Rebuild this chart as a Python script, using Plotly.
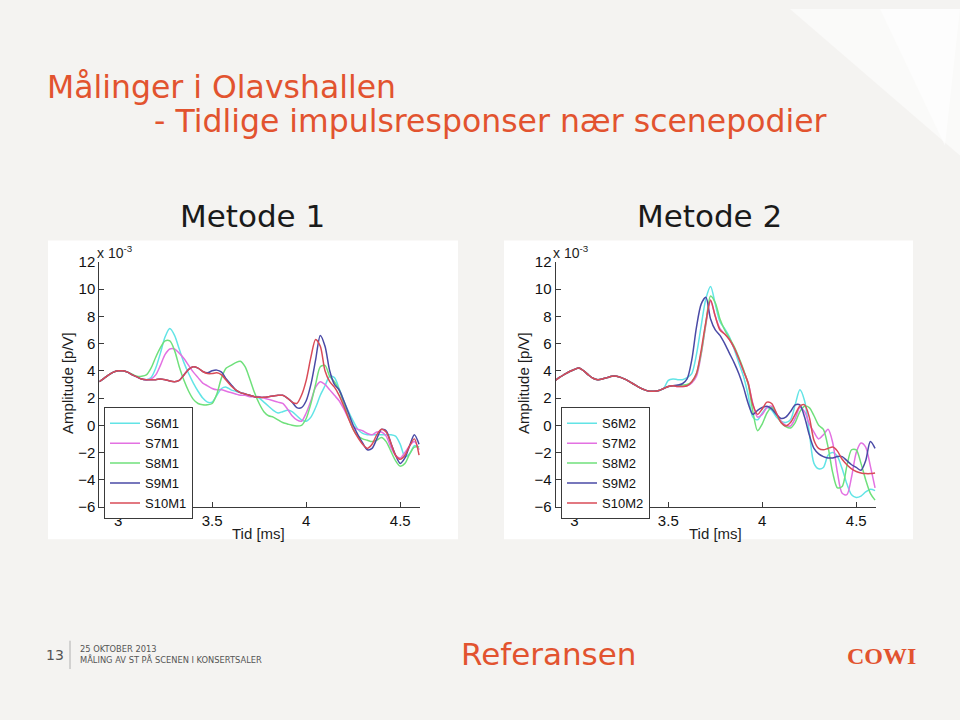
import plotly.graph_objects as go

# time grid [ms]
t = [round(2.9 + 0.025 * i, 3) for i in range(69)]

# ---------- Metode 1 (amplitude in units of 1e-3) ----------
S6M1 = [3.2, 3.45, 3.7, 3.9, 4.0, 4.0, 3.9, 3.7, 3.55, 3.4, 3.35,
        3.5, 4.2, 5.3, 6.5, 7.1, 6.6, 5.6, 4.6, 3.8, 3.1,
        2.5, 2.0, 1.7, 1.7, 2.2, 2.7, 2.8, 2.6, 2.5, 2.4,
        2.3, 2.2, 2.1, 2.0, 1.7, 1.4, 1.1, 0.9, 1.0, 1.1,
        1.0, 0.7, 0.4, 0.3, 0.6, 1.3, 2.2, 2.9, 3.6, 3.5,
        2.7, 1.8, 1.0, 0.3, -0.3, -0.6, -0.7, -0.7, -0.7, -0.7,
        -0.7, -0.7, -0.8, -1.4, -2.3, -2.1, -1.5, -1.6]
S7M1 = [3.2, 3.45, 3.7, 3.9, 4.0, 4.0, 3.9, 3.7, 3.55, 3.4, 3.35,
        3.4, 3.7, 4.4, 5.2, 5.6, 5.6, 5.3, 4.9, 4.4, 3.9,
        3.5, 3.1, 2.9, 2.7, 2.6, 2.6, 2.5, 2.4, 2.3, 2.2,
        2.2, 2.1, 2.1, 2.1, 2.0, 1.9, 1.8, 1.7, 1.6, 1.2,
        0.7, 0.4, 0.3, 0.9, 1.8, 2.8, 3.2, 3.0, 2.6, 2.2,
        1.8, 1.2, 0.5, -0.1, -0.3, -0.4, -0.6, -0.7, -0.5, -0.5,
        -0.8, -1.6, -2.2, -2.4, -2.0, -1.5, -1.2, -1.8]
S8M1 = [3.2, 3.45, 3.7, 3.9, 4.0, 4.0, 3.9, 3.75, 3.6, 3.6, 3.7,
        4.2, 5.0, 5.7, 6.2, 6.2, 5.5, 4.3, 3.3, 2.5, 1.9,
        1.6, 1.5, 1.5, 1.6, 2.3, 3.5, 4.2, 4.4, 4.6, 4.7,
        4.3, 3.4, 2.4, 1.6, 1.0, 0.7, 0.6, 0.4, 0.2, 0.1,
        0.0, -0.05, 0.0, 0.5, 1.6, 3.0, 4.3, 4.4, 3.6, 3.2,
        2.6, 1.6, 0.6, -0.3, -0.8, -1.0, -1.1, -1.2, -1.1, -0.9,
        -1.2, -1.9, -2.6, -3.0, -2.8, -2.1, -1.6, -1.6]
S9M1 = [3.2, 3.45, 3.7, 3.9, 4.0, 4.0, 3.9, 3.7, 3.55, 3.4, 3.35,
        3.35, 3.35, 3.4, 3.35, 3.25, 3.2, 3.3, 3.7, 4.1, 4.3,
        4.2, 3.95, 3.85, 4.0, 4.05, 3.9, 3.4, 3.0, 2.6, 2.4,
        2.3, 2.2, 2.1, 2.05, 2.05, 2.1, 2.15, 2.2, 2.2, 2.0,
        1.7, 1.3, 1.3, 1.8, 3.0, 4.8, 6.6, 5.8, 4.0, 3.0,
        2.6, 1.8, 0.9, 0.0, -0.7, -1.3, -1.8, -1.7, -1.0, -0.3,
        -0.4, -1.3, -2.2, -2.8, -2.4, -1.5, -0.7, -1.4]
S10M1 = [3.2, 3.45, 3.7, 3.9, 4.0, 4.0, 3.9, 3.7, 3.55, 3.4, 3.35,
         3.35, 3.35, 3.4, 3.35, 3.25, 3.2, 3.3, 3.7, 4.1, 4.3,
         4.2, 3.95, 3.8, 3.8, 3.85, 3.7, 3.3, 2.9, 2.6, 2.4,
         2.3, 2.2, 2.1, 2.05, 2.05, 2.1, 2.15, 2.2, 2.2, 2.0,
         1.7, 1.6, 2.2, 3.3, 5.0, 6.3, 5.8, 4.0, 3.2, 2.8,
         2.2, 1.4, 0.5, -0.3, -0.9, -1.4, -1.7, -1.4, -0.7, -0.3,
         -0.5, -1.3, -2.2, -2.5, -2.2, -1.5, -1.0, -2.2]

# ---------- Metode 2 ----------
_m2_start = [3.3, 3.55, 3.75, 3.95, 4.1, 4.2, 4.0, 3.7, 3.45, 3.35, 3.4,
             3.5, 3.6, 3.6, 3.5, 3.35, 3.15, 2.95, 2.75, 2.6, 2.5,
             2.5, 2.55, 2.7]
S6M2 = _m2_start + [3.3, 3.4, 3.35, 3.35, 3.5, 3.8, 5.2,
                    7.3, 9.3, 10.2, 8.9, 7.6, 7.1, 6.5, 5.6, 4.6, 3.6,
                    2.2, 0.6, 0.4, 0.9, 1.3, 1.1, 0.6, 0.3, 0.2, 0.4,
                    1.5, 2.6, 1.8, -0.5, -2.8, -3.2, -3.1, -2.2, -2.0, -2.3,
                    -3.2, -4.3, -5.1, -5.3, -5.2, -4.9, -4.7, -4.8]
S7M2 = _m2_start + [2.85, 2.9, 2.85, 2.85, 2.9, 3.1, 3.6,
                    5.2, 7.4, 9.1, 8.0, 7.1, 6.7, 6.3, 5.7, 4.9, 4.0,
                    3.1, 1.6, 0.6, 0.8, 1.3, 1.4, 0.9, 0.3, 0.0, -0.05,
                    0.5, 1.3, 1.0, 0.1, -0.5, -1.0, -0.7, -0.3, -1.3, -3.5,
                    -5.0, -5.1, -3.8, -2.0, -1.3, -1.6, -3.0, -4.6]
S8M2 = _m2_start + [2.85, 2.9, 2.9, 2.95, 3.0, 3.2, 3.8,
                    5.3, 7.5, 9.5, 9.0, 7.8, 7.0, 6.4, 5.8, 5.0, 4.1,
                    3.0, 1.0, -0.4, 0.1, 0.9, 1.3, 0.8, 0.2, -0.1, -0.2,
                    0.2, 1.0, 1.4, 1.3, 0.7, 0.0, -0.3, -1.6, -3.5, -4.6,
                    -4.5, -3.0, -1.8, -1.8, -2.8, -4.0, -5.0, -5.5]
S9M2 = _m2_start + [2.85, 2.9, 2.95, 3.05, 3.4, 4.8, 7.2,
                    8.9, 9.4, 7.8, 7.0, 6.6, 6.0, 5.3, 4.6, 3.8, 2.8,
                    1.6, 0.8, 1.1, 1.3, 1.4, 1.2, 0.8, 0.5, 0.6, 1.0,
                    1.5, 1.5, 0.6, -0.7, -1.7, -2.1, -2.3, -2.4, -2.4, -2.3,
                    -2.3, -2.6, -2.9, -3.1, -3.3, -2.6, -1.2, -1.7]
S10M2 = _m2_start + [2.85, 2.9, 2.85, 2.85, 2.9, 3.2, 3.8,
                     5.5, 7.6, 9.2, 8.0, 7.0, 6.7, 6.3, 5.7, 4.9, 4.0,
                     3.1, 1.5, 0.8, 1.2, 1.7, 1.6, 0.9, 0.2, -0.05, 0.2,
                     0.8, 1.4, 1.5, 0.6, -1.1, -1.7, -1.8, -1.7, -1.6, -1.9,
                     -2.5, -2.9, -3.2, -3.4, -3.5, -3.55, -3.55, -3.5]

names1 = ["S6M1", "S7M1", "S8M1", "S9M1", "S10M1"]
names2 = ["S6M2", "S7M2", "S8M2", "S9M2", "S10M2"]
series1 = [S6M1, S7M1, S8M1, S9M1, S10M1]
series2 = [S6M2, S7M2, S8M2, S9M2, S10M2]
colors = ["#62e4e6", "#e371e2", "#6fe07b", "#4a4aa6", "#d94b57"]

y_ticks = [-6, -4, -2, 0, 2, 4, 6, 8, 10, 12]
x_ticks = [3, 3.5, 4, 4.5]
x_ticklabels = ["3", "3.5", "4", "4.5"]

ORANGE = "#e2532f"
W, H = 960, 720

fig = go.Figure()
for nm, ys, c in zip(names1, series1, colors):
    fig.add_trace(go.Scatter(x=t, y=ys, name=nm, mode="lines",
                             line=dict(color=c, width=1.5, shape="spline", smoothing=0.8),
                             xaxis="x", yaxis="y", legend="legend"))
for nm, ys, c in zip(names2, series2, colors):
    fig.add_trace(go.Scatter(x=t, y=ys, name=nm, mode="lines",
                             line=dict(color=c, width=1.5, shape="spline", smoothing=0.8),
                             xaxis="x2", yaxis="y2", legend="legend2"))

def px(x):
    return x / W

def py(y):
    return 1 - y / H

axis_common = dict(showline=True, linecolor="#3a3a3a", linewidth=1, ticks="inside",
                   ticklen=5, tickcolor="#3a3a3a", showgrid=False, zeroline=False,
                   tickfont=dict(family="Liberation Sans", size=15, color="#111111"),
                   mirror=False)

legend_common = dict(xanchor="left", yanchor="top",
                     bgcolor="white", bordercolor="#3a3a3a", borderwidth=1,
                     font=dict(family="Liberation Sans", size=13, color="#111111"),
                     itemwidth=30, tracegroupgap=0)

fig.update_layout(
    width=W, height=H, margin=dict(l=0, r=0, t=0, b=0),
    paper_bgcolor="#f4f3f1", plot_bgcolor="white",
    xaxis=dict(domain=[px(99.3), px(420)], range=[2.9, 4.605], anchor="y",
               tickvals=x_ticks, ticktext=x_ticklabels, **axis_common),
    yaxis=dict(domain=[py(510), py(259)], range=[-6, 12], anchor="x",
               tickvals=y_ticks, **axis_common),
    xaxis2=dict(domain=[px(555.5), px(876)], range=[2.9, 4.605], anchor="y2",
                tickvals=x_ticks, ticktext=x_ticklabels, **axis_common),
    yaxis2=dict(domain=[py(510), py(259)], range=[-6, 12], anchor="x2",
                tickvals=y_ticks, **axis_common),
    legend=dict(x=px(104), y=py(408), **legend_common),
    legend2=dict(x=px(561), y=py(408), **legend_common),
    showlegend=True,
)

# decorative light triangles (top right) and white figure panels
fig.add_shape(type="path", xref="paper", yref="paper",
              path=f"M {px(790)},{py(0)} L {px(960)},{py(0)} L {px(960)},{py(150)} Z",
              fillcolor="rgba(255,255,255,0.55)", line=dict(width=0), layer="below")
fig.add_shape(type="path", xref="paper", yref="paper",
              path=f"M {px(880)},{py(0)} L {px(960)},{py(0)} L {px(945)},{py(140)} Z",
              fillcolor="rgba(255,255,255,0.6)", line=dict(width=0), layer="below")
for x0, x1 in [(48, 458), (504, 913)]:
    fig.add_shape(type="rect", xref="paper", yref="paper",
                  x0=px(x0), x1=px(x1), y0=py(543), y1=py(237),
                  fillcolor="white", line=dict(width=0), layer="below")
# footer separator
fig.add_shape(type="line", xref="paper", yref="paper",
              x0=px(70), x1=px(70), y0=py(647), y1=py(676),
              line=dict(color="#b0b0b0", width=1))

ann = []
def A(text, x, y, size, color="#1e1e1e", family="DejaVu Sans", xanchor="left",
      yanchor="middle", angle=0):
    ann.append(dict(text=text, x=px(x), y=py(y), xref="paper", yref="paper",
                    showarrow=False, xanchor=xanchor, yanchor=yanchor, textangle=angle,
                    font=dict(size=size, color=color, family=family)))

A("Målinger i Olavshallen", 45, 80, 31.5, ORANGE)
A("- Tidlige impulsresponser nær scenepodier", 152, 115, 31.5, ORANGE)
A("Metode 1", 252, 212, 31, "#1a1a1a", xanchor="center")
A("Metode 2", 709, 212, 31, "#1a1a1a", xanchor="center")
for xl, xc in [(95, 68), (551, 524)]:
    A("x 10<sup>-3</sup>", xl, 249, 14, family="Liberation Sans")
    A("Amplitude [p/V]", xc, 383, 15, family="Liberation Sans", xanchor="center", angle=-90)
A("Tid [ms]", 258, 537, 15, family="Liberation Sans", xanchor="center")
A("Tid [ms]", 715, 537, 15, family="Liberation Sans", xanchor="center")
A("13", 55, 662, 14, "#555555", xanchor="center")
A("25 OKTOBER 2013", 78, 655, 8.3, "#555555")
A("MÅLING AV ST PÅ SCENEN I KONSERTSALER", 78, 666, 8.3, "#555555")
A("Referansen", 548, 661, 31, ORANGE, xanchor="center")
A("<b>COWI</b>", 881, 663, 24, ORANGE, family="Liberation Serif", xanchor="center")
fig.update_layout(annotations=ann)

fig.write_html("out.html", config={"displayModeBar": False},
               post_script="document.body.style.margin='0';")
